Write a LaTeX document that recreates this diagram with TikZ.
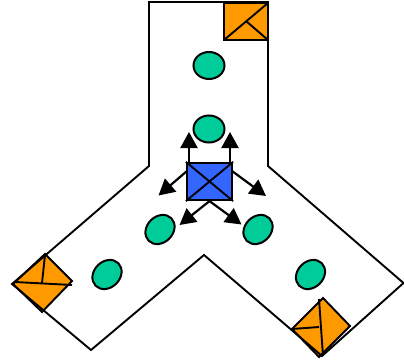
\documentclass[tikz,border=0pt]{standalone}
\usetikzlibrary{arrows.meta,shapes.geometric}
\definecolor{orangefill}{RGB}{255,153,0}
\definecolor{tealfill}{RGB}{0,204,153}
\definecolor{bluefill}{RGB}{51,102,255}
\tikzset{
  wall/.style={draw=black,line width=1.9pt,line join=miter},
  inkline/.style={draw=black,line width=1.9pt},
  sensor/.style={draw=black,fill=orangefill,line width=1.9pt,line join=miter},
  robot/.style={ellipse,draw=black,fill=tealfill,line width=2pt,minimum width=31pt,minimum height=27pt,inner sep=0pt},
  tilted/.style={robot,rotate=45,minimum width=32pt,minimum height=26pt},
  hub/.style={rectangle,draw=black,fill=bluefill,line width=2.2pt,minimum width=45pt,minimum height=37pt,inner sep=0pt},
  dirarrow/.style={draw=black,line width=2.2pt,-{Triangle[length=16pt,width=17pt]}}
}
\begin{document}
\begin{tikzpicture}[x=1pt,y=-1pt]
\useasboundingbox (0,0) rectangle (404,361);
% top sensor
\draw[sensor] (224,3) rectangle (268,40);
\draw[inkline] (224,40) -- (268,3);
\draw[inkline] (246,21) -- (268,40);
% left sensor
\draw[sensor] (45,254) -- (72,281) -- (42,312) -- (13,284) -- cycle;
\draw[inkline] (15,282) -- (72,285);
\draw[inkline] (45,255) -- (42,283);
% right sensor
\draw[sensor] (323,298) -- (350,326) -- (319,357) -- (292,329) -- cycle;
\draw[inkline] (319,299) -- (323,356);
\draw[inkline] (292,329) -- (319,327);
% outline
\draw[wall] (149,2) -- (268,2) -- (268,166) -- (403.5,283) -- (322,356) -- (204,255) -- (91,350) -- (12,284) -- (149,166) -- cycle;
% robots
\node[robot] (r1) at (209,65.5) {};
\node[robot] (r2) at (209,129) {};
\node[tilted] (r3) at (160,229.5) {};
\node[tilted] (r4) at (258,229.5) {};
\node[tilted] (r5) at (107,274.5) {};
\node[tilted] (r6) at (310.5,274.5) {};
% hub
\node[hub] (h) at (209.5,181.5) {};
\draw[inkline] (h.north west) -- (h.south east);
\draw[inkline] (h.north east) -- (h.south west);
% arrows
\coordinate (a1) at (189,132);
\coordinate (a2) at (230,132);
\coordinate (a3) at (158.5,195.5);
\coordinate (a4) at (266,196);
\coordinate (a5) at (179.5,225);
\coordinate (a6) at (241.5,224.5);
\coordinate (s1) at (189,163);
\coordinate (s2) at (230,163);
\coordinate (s3) at (187,171);
\coordinate (s4) at (232,171);
\draw[dirarrow] (s1) -- (a1);
\draw[dirarrow] (s2) -- (a2);
\draw[dirarrow] (s3) -- (a3);
\draw[dirarrow] (s4) -- (a4);
\draw[dirarrow] (h.south) -- (a5);
\draw[dirarrow] (h.south) -- (a6);
\end{tikzpicture}
\end{document}
